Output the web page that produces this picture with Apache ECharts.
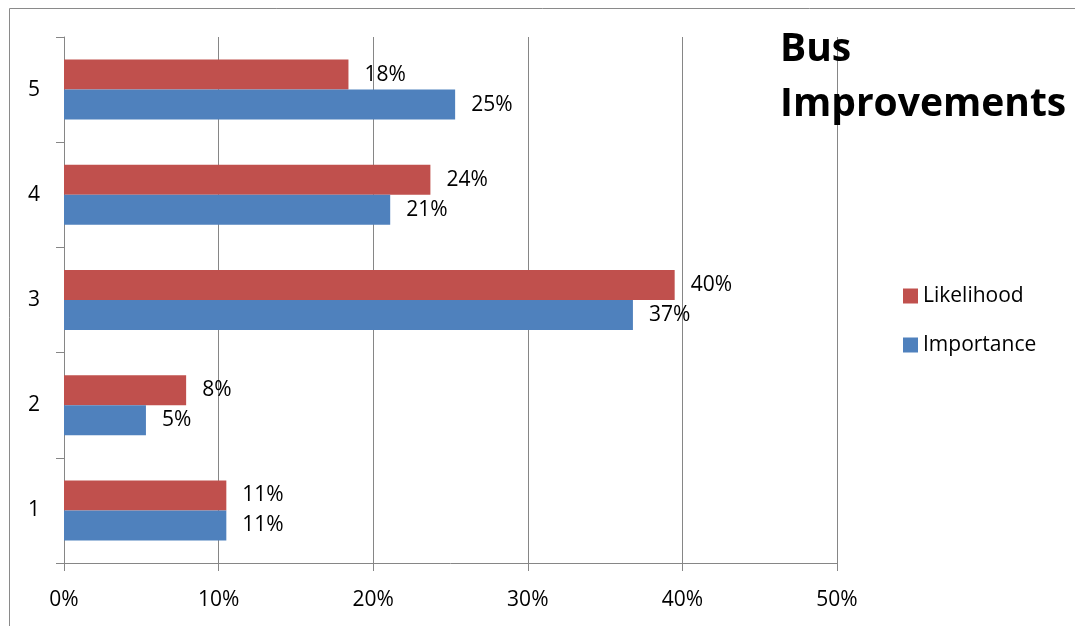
<!DOCTYPE html>
<html><head><meta charset="utf-8">
<script src="https://cdn.jsdelivr.net/npm/echarts@6/dist/echarts.min.js"></script>
<style>html,body{margin:0;padding:0;background:#fff}#c{width:1075px;height:626px}</style>
</head><body><div id="c"></div>
<script>
const categories = ['1', '2', '3', '4', '5'];
const importance = [10.5, 5.3, 36.8, 21.1, 25.3];
const likelihood = [10.5, 7.9, 39.5, 23.7, 18.4];
const xTicks = [0, 10, 20, 30, 40, 50];

const FONT = 'Open Sans';
const chart = echarts.init(document.getElementById('c'));
const labelCfg = {
  show: true, position: 'right', distance: 16,
  fontFamily: FONT, fontSize: 21, color: '#000', padding: [3, 0, 0, 0],
  formatter: p => Math.round(p.value) + '%'
};
chart.setOption({
  animation: false,
  graphic: [{
    type: 'rect', shape: {x: 9.5, y: 8.5, width: 1200, height: 800},
    style: {fill: 'none', stroke: '#8a8a8a', lineWidth: 1}, silent: true
  }],
  title: {
    text: 'Bus\nImprovements', left: 775, top: 17,
    textStyle: {fontFamily: FONT, fontWeight: 'bold', fontSize: 39, lineHeight: 55, color: '#000'}
  },
  legend: {
    data: ['Likelihood', 'Importance'], orient: 'vertical', left: 903, top: 285,
    itemWidth: 15, itemHeight: 15, itemGap: 27, icon: 'rect', padding: 0,
    textStyle: {fontFamily: FONT, fontSize: 21, lineHeight: 22, color: '#000'}
  },
  grid: {left: 64, top: 37, width: 773, height: 526, containLabel: false},
  xAxis: {
    type: 'value', min: xTicks[0], max: xTicks[xTicks.length - 1], interval: 10,
    axisLine: {show: true, lineStyle: {color: '#868686'}},
    axisTick: {show: true, length: 8, lineStyle: {color: '#868686'}},
    splitLine: {show: true, lineStyle: {color: '#868686'}},
    axisLabel: {fontFamily: FONT, fontSize: 21, color: '#000', margin: 27, formatter: v => v + '%'}
  },
  yAxis: {
    type: 'category', data: categories,
    axisLine: {show: true, lineStyle: {color: '#868686'}},
    axisTick: {show: true, length: 8, lineStyle: {color: '#868686'}},
    axisLabel: {fontFamily: FONT, fontSize: 21, color: '#000', margin: 24}
  },
  series: [
    {name: 'Likelihood', type: 'bar', data: likelihood, barWidth: 30, barGap: '0%',
     itemStyle: {color: '#C0504D'}, label: labelCfg},
    {name: 'Importance', type: 'bar', data: importance, barWidth: 30, barGap: '0%',
     itemStyle: {color: '#4F81BD'}, label: labelCfg}
  ]
});
</script></body></html>
